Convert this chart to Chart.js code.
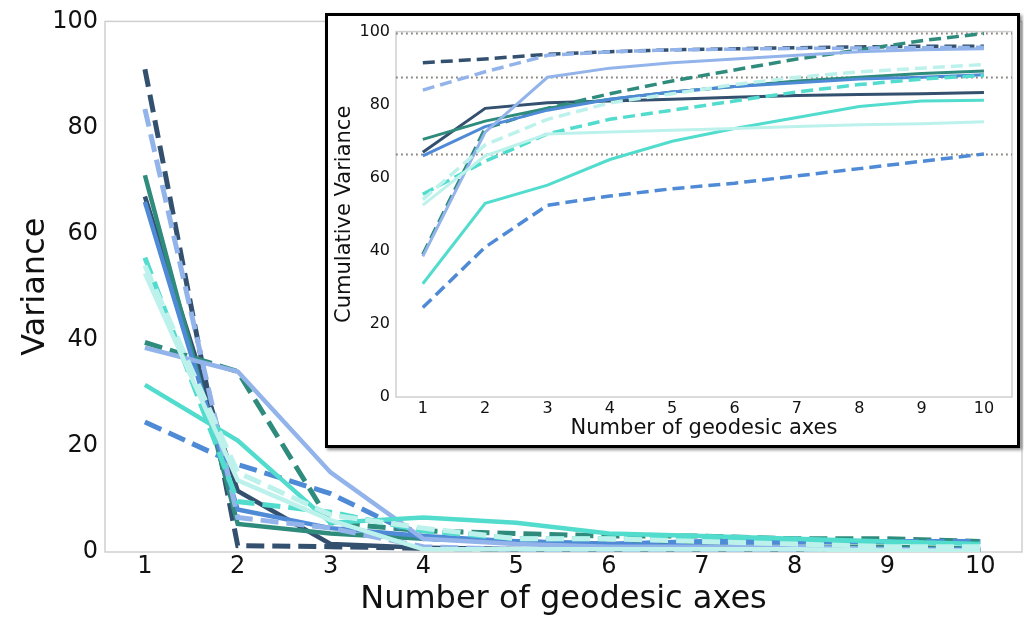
<!DOCTYPE html>
<html>
<head>
<meta charset="utf-8">
<script src="https://cdn.jsdelivr.net/npm/chart.js@4/dist/chart.umd.min.js"></script>
<style>
  html, body { margin: 0; padding: 0; background: #ffffff; }
  #wrap { position: relative; width: 1024px; height: 621px; overflow: hidden; }
  #main { position: absolute; left: 0; top: 0; }
  #insetBox {
    position: absolute; left: 325px; top: 13px;
    width: 689px; height: 429px;
    border: 3px solid #000; background: #fff;
    box-shadow: 2px 2px 3px rgba(0,0,0,0.45);
  }
  #inset { position: absolute; left: 0; top: 0; }
</style>
</head>
<body>
<div id="wrap">
  <canvas id="main" width="1024" height="621"></canvas>
  <div id="insetBox"><canvas id="inset" width="689" height="429"></canvas></div>
</div>
<script>
// Number of geodesic axes kept
const axes = [1, 2, 3, 4, 5, 6, 7, 8, 9, 10];
const yTicks = [0, 20, 40, 60, 80, 100];
const thresholds = [99.5, 87.5, 66.5];

// Variance explained by each axis (%)
const navySolid   = [67, 11.5, 1.5, 0.8, 0.5, 0.4, 0.4, 0.3, 0.2, 0.2];
const navyDashed  = [91, 1.2, 1.0, 0.7, 0.5, 0.4, 0.3, 0.3, 0.2, 0.1];
const tealSolid   = [71, 5.3, 3.5, 2.5, 2.0, 1.5, 1.5, 1.0, 1.0, 0.6];
const tealDashed  = [39.5, 34, 5.5, 4.0, 3.5, 3.0, 3.0, 2.5, 2.5, 2.0];
const lightSolid  = [38.5, 34, 15, 2.5, 1.5, 1.0, 1.0, 1.0, 0.5, 0.3];
const lightDashed = [83.5, 6.5, 4.5, 1.0, 0.5, 0.3, 0.2, 0.1, 0.1, 0.1];
const turqSolid   = [31.5, 21, 5.5, 6.5, 5.5, 3.5, 3.0, 2.5, 2.0, 1.5];
const turqDashed  = [55.5, 9.5, 7.5, 4.0, 2.5, 2.5, 2.5, 2.0, 1.5, 1.0];
const paleSolid   = [52.5, 13.5, 6.0, 0.5, 0.5, 0.5, 0.5, 0.5, 0.3, 0.2];
const paleDashed  = [54, 15, 7, 4.5, 2.5, 2.5, 2.0, 1.5, 1.0, 1.0];
const medSolid    = [66, 8.0, 4.5, 3.0, 2.0, 1.5, 1.0, 1.0, 0.5, 0.5];
const medDashed   = [24.5, 16.5, 11, 2.5, 2.0, 1.5, 2.0, 2.0, 2.0, 2.0];

// Cumulative variance (%)
const navySolidCum   = [67, 79, 80.5, 81, 81.5, 82, 82.5, 82.8, 83, 83.3];
const navyDashedCum  = [91.5, 92.5, 93.8, 94.5, 95, 95.3, 95.6, 95.8, 96, 96];
const tealSolidCum   = [70.5, 75.5, 79, 81.5, 83.5, 85, 86.5, 87.5, 88.5, 89.2];
const tealDashedCum  = [39, 73.5, 79, 83, 86.5, 89.5, 92.5, 95, 97.5, 99.5];
const lightSolidCum  = [38.5, 72.5, 87.5, 90, 91.5, 92.5, 93.5, 94.5, 95, 95.3];
const lightDashedCum = [84, 89, 93.5, 94.5, 95, 95.2, 95.4, 95.5, 95.6, 95.7];
const turqSolidCum   = [31, 53, 58, 65, 70, 73.5, 76.5, 79.5, 81, 81.2];
const turqDashedCum  = [55.5, 64.5, 72, 76, 78.5, 81, 83.5, 85.5, 87, 88];
const paleSolidCum   = [52.5, 66, 72, 72.5, 73, 73.5, 74, 74.5, 74.8, 75.3];
const paleDashedCum  = [54, 69, 76, 80.5, 83, 85.5, 87.5, 89, 90, 91];
const medSolidCum    = [66, 74, 78.5, 81.5, 83.5, 85, 86, 87, 87.5, 88.2];
const medDashedCum   = [24.5, 41, 52.5, 55, 57, 58.5, 60.5, 62.5, 64.5, 66.5];

const C = {
  navy: '#33506f', teal: '#2f8c7c', light: '#92b4ea',
  turq: '#52dccd', pale: '#bcf2eb', med: '#4f8ad6'
};

// colour, dashed?, per-axis values, cumulative values
const series = [
  ['pale',  false, paleSolid,   paleSolidCum],
  ['pale',  true,  paleDashed,  paleDashedCum],
  ['turq',  false, turqSolid,   turqSolidCum],
  ['turq',  true,  turqDashed,  turqDashedCum],
  ['light', false, lightSolid,  lightSolidCum],
  ['light', true,  lightDashed, lightDashedCum],
  ['med',   false, medSolid,    medSolidCum],
  ['med',   true,  medDashed,   medDashedCum],
  ['teal',  false, tealSolid,   tealSolidCum],
  ['teal',  true,  tealDashed,  tealDashedCum],
  ['navy',  false, navySolid,   navySolidCum],
  ['navy',  true,  navyDashed,  navyDashedCum]
];

Chart.defaults.font.family = "'DejaVu Sans', sans-serif";
Chart.defaults.color = '#111';

function toPoints(vals) { return axes.map((a, i) => ({ x: a, y: vals[i] })); }

function buildSets(idx, solidW, dashW, dash) {
  return series.map(s => ({
    data: toPoints(s[idx]),
    borderColor: C[s[0]],
    borderWidth: s[1] ? dashW : solidW,
    borderDash: s[1] ? dash : [],
    borderCapStyle: 'butt',
    pointRadius: 0,
    fill: false,
    tension: 0
  }));
}

// light grey box around the plotting area
const frame = {
  id: 'frame',
  beforeDatasetsDraw(chart) {
    const a = chart.chartArea, ctx = chart.ctx;
    ctx.save();
    ctx.strokeStyle = '#cfcfcf';
    ctx.lineWidth = 1.5;
    ctx.strokeRect(a.left, a.top, a.right - a.left, a.bottom - a.top);
    ctx.restore();
  }
};

// dotted reference levels in the cumulative panel
const levels = {
  id: 'levels',
  beforeDatasetsDraw(chart) {
    const a = chart.chartArea, ctx = chart.ctx, y = chart.scales.y;
    ctx.save();
    ctx.strokeStyle = '#8a8580';
    ctx.lineWidth = 1.8;
    ctx.setLineDash([1.8, 3.2]);
    thresholds.forEach(v => {
      const py = Math.round(y.getPixelForValue(v)) + 0.5;
      ctx.beginPath();
      ctx.moveTo(a.left, py);
      ctx.lineTo(a.right, py);
      ctx.stroke();
    });
    ctx.restore();
  }
};

function axisOpts(cfg) {
  return {
    x: {
      type: 'linear', min: 0.57, max: 10.45,
      afterBuildTicks: s => { s.ticks = axes.map(v => ({ value: v })); },
      afterFit: s => { s.height = cfg.xh; },
      grid: { display: false, drawTicks: false },
      border: { display: false },
      ticks: { font: { size: cfg.tick }, padding: cfg.xpad, maxRotation: 0, autoSkip: false, color: '#111' },
      title: { display: true, text: 'Number of geodesic axes', font: { size: cfg.title }, color: '#111', padding: { top: 0, bottom: cfg.xtp } }
    },
    y: {
      min: 0, max: 100,
      afterBuildTicks: s => { s.ticks = yTicks.map(v => ({ value: v })); },
      afterFit: s => { s.width = cfg.yw; },
      grid: { display: false, drawTicks: false },
      border: { display: false },
      ticks: { font: { size: cfg.tick }, padding: cfg.ypad, color: '#111' },
      title: { display: true, text: cfg.ytitle, font: { size: cfg.title }, color: '#111', padding: { top: cfg.ytp, bottom: 0 } }
    }
  };
}

new Chart(document.getElementById('main'), {
  type: 'line',
  data: { datasets: buildSets(2, 4.5, 5, [18, 8]) },
  options: {
    responsive: false, animation: false, devicePixelRatio: 1,
    layout: { padding: { top: 15, right: 2, left: 0, bottom: 0 } },
    plugins: { legend: { display: false }, tooltip: { enabled: false } },
    scales: axisOpts({ xh: 69, yw: 105, tick: 24, title: 32, xpad: 0, ypad: 7, xtp: 2, ytp: 16, ytitle: 'Variance' })
  },
  plugins: [frame]
});

new Chart(document.getElementById('inset'), {
  type: 'line',
  data: { datasets: buildSets(3, 3, 3.5, [12, 6]) },
  options: {
    responsive: false, animation: false, devicePixelRatio: 1,
    layout: { padding: { top: 12, right: 5, left: 0, bottom: 0 } },
    plugins: { legend: { display: false }, tooltip: { enabled: false } },
    scales: axisOpts({ xh: 48, yw: 68, tick: 16, title: 21, xpad: 2, ypad: 6, xtp: 4, ytp: 4, ytitle: 'Cumulative Variance' })
  },
  plugins: [frame, levels]
});
</script>
</body>
</html>
